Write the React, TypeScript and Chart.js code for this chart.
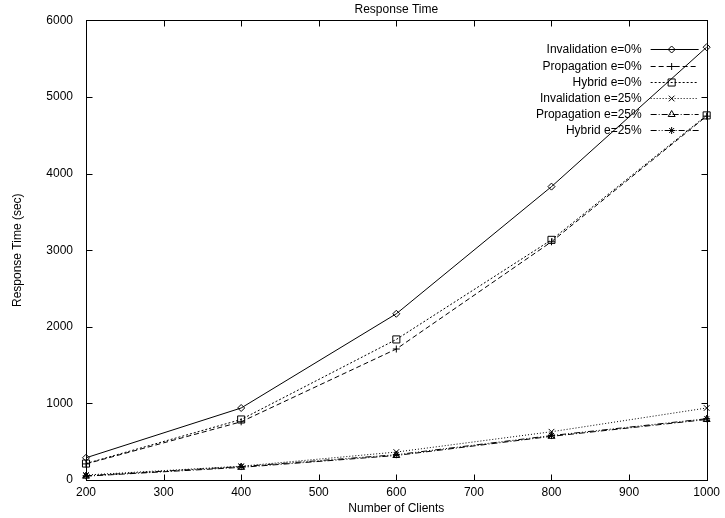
import { useEffect, useRef } from 'react';
import { Chart, registerables } from 'chart.js';
import { drawPoint } from 'chart.js/helpers';

Chart.register(...registerables);

// Number of clients on the x axis
const clients = [200, 400, 600, 800, 1000];

// Response time (sec) per scheme and error rate
const invalidation0 = [290, 940, 2170, 3830, 5650];
const propagation0 = [210, 760, 1710, 3110, 4750];
const hybrid0 = [215, 790, 1835, 3135, 4760];
const invalidation25 = [65, 180, 365, 630, 940];
const propagation25 = [50, 165, 320, 570, 790];
const hybrid25 = [55, 175, 330, 580, 800];

const seriesLabels = [
  'Invalidation e=0%',
  'Propagation e=0%',
  'Hybrid e=0%',
  'Invalidation e=25%',
  'Propagation e=25%',
  'Hybrid e=25%',
];
const seriesValues = [invalidation0, propagation0, hybrid0, invalidation25, propagation25, hybrid25];

const FONT = "'Liberation Sans', Arial, Helvetica, sans-serif";

const seriesStyles = [
  { dash: [], point: 'rectRot', radius: 3.5 },
  { dash: [5, 3], point: 'cross', radius: 3.5 },
  { dash: [2, 2], point: 'rect', radius: 5 },
  { dash: [1, 2], point: 'crossRot', radius: 4 },
  { dash: [6, 2, 1, 2], point: 'triangle', radius: 4 },
  { dash: [6, 2, 1, 2, 1, 2], point: 'star', radius: 3.5 },
];

// Box around the plot area with inward tick marks on all four sides
const framePlugin = {
  id: 'frame',
  afterDatasetsDraw(chart: any) {
    const { ctx, chartArea: a, scales } = chart;
    const len = 6;
    ctx.save();
    ctx.strokeStyle = '#000';
    ctx.lineWidth = 1;
    const l = Math.round(a.left) + 0.5;
    const r = Math.round(a.right) + 0.5;
    const t = Math.round(a.top) + 0.5;
    const b = Math.round(a.bottom) + 0.5;
    ctx.strokeRect(l, t, r - l, b - t);
    ctx.beginPath();
    scales.x.ticks.forEach((tk: any) => {
      const px = Math.round(scales.x.getPixelForValue(tk.value)) + 0.5;
      ctx.moveTo(px, b);
      ctx.lineTo(px, b - len);
      ctx.moveTo(px, t);
      ctx.lineTo(px, t + len);
    });
    scales.y.ticks.forEach((tk: any) => {
      const py = Math.round(scales.y.getPixelForValue(tk.value)) + 0.5;
      ctx.moveTo(l, py);
      ctx.lineTo(l + len, py);
      ctx.moveTo(r, py);
      ctx.lineTo(r - len, py);
    });
    ctx.stroke();
    ctx.restore();
  },
};

// Key in the upper right: right-aligned text followed by a line sample with its marker
const keyPlugin = {
  id: 'key',
  afterDraw(chart: any) {
    const { ctx, chartArea: a } = chart;
    ctx.save();
    ctx.font = `12px ${FONT}`;
    ctx.textAlign = 'right';
    ctx.textBaseline = 'middle';
    const textRight = a.right - 65;
    const lineStart = a.right - 56;
    const lineEnd = a.right - 8;
    chart.data.datasets.forEach((ds: any, i: number) => {
      const y = Math.round(a.top + 29 + i * 16.2) + 0.5;
      ctx.fillStyle = '#000';
      ctx.fillText(ds.label, textRight, y);
      ctx.strokeStyle = '#000';
      ctx.lineWidth = 1;
      ctx.setLineDash(ds.borderDash || []);
      ctx.beginPath();
      ctx.moveTo(lineStart, y);
      ctx.lineTo(lineEnd, y);
      ctx.stroke();
      ctx.setLineDash([]);
      ctx.fillStyle = 'rgba(0,0,0,0)';
      drawPoint(
        ctx,
        { pointStyle: ds.pointStyle, radius: ds.pointRadius, rotation: 0, borderWidth: 1 },
        lineStart + 21,
        y
      );
    });
    ctx.restore();
  },
};

const plainNumber = (v: any) => String(v);

export default function App() {
  const canvasRef = useRef<HTMLCanvasElement | null>(null);

  useEffect(() => {
    document.body.style.margin = '0';
    const canvas = canvasRef.current;
    if (!canvas) return;

    const datasets = seriesLabels.map((label, i) => ({
      label,
      data: clients.map((c, j) => ({ x: c, y: seriesValues[i][j] })),
      borderColor: '#000',
      backgroundColor: 'rgba(0,0,0,0)',
      borderWidth: 1,
      borderDash: seriesStyles[i].dash,
      pointStyle: seriesStyles[i].point,
      pointRadius: seriesStyles[i].radius,
      pointBorderColor: '#000',
      pointBackgroundColor: 'rgba(0,0,0,0)',
      pointBorderWidth: 1,
      fill: false,
      tension: 0,
      clip: false as any,
    }));

    const chart = new Chart(canvas, {
      type: 'line',
      data: { datasets },
      options: {
        responsive: false,
        animation: false,
        layout: { padding: { left: 10, right: 17, top: 2, bottom: 0 } },
        plugins: {
          legend: { display: false },
          tooltip: { enabled: false },
          title: {
            display: true,
            text: 'Response Time',
            color: '#000',
            fullSize: false,
            font: { family: FONT, size: 12, weight: 'normal' },
            padding: { top: 0, bottom: 4 },
          },
        },
        scales: {
          x: {
            type: 'linear',
            min: 200,
            max: 1000,
            grid: { display: false, drawTicks: false },
            border: { display: false },
            ticks: {
              stepSize: 100,
              color: '#000',
              padding: 5,
              maxRotation: 0,
              font: { family: FONT, size: 12 },
              callback: plainNumber,
            },
            title: {
              display: true,
              text: 'Number of Clients',
              color: '#000',
              font: { family: FONT, size: 12 },
              padding: { top: 0, bottom: 2 },
            },
            afterFit: (s: any) => {
              s.height = 38;
            },
          },
          y: {
            type: 'linear',
            min: 0,
            max: 6000,
            grid: { display: false, drawTicks: false },
            border: { display: false },
            ticks: {
              stepSize: 1000,
              color: '#000',
              padding: 13,
              font: { family: FONT, size: 12 },
              callback: plainNumber,
            },
            title: {
              display: true,
              text: 'Response Time (sec)',
              color: '#000',
              font: { family: FONT, size: 12 },
              padding: { top: 0, bottom: 0 },
            },
            afterFit: (s: any) => {
              s.width = 76;
            },
          },
        },
      },
      plugins: [framePlugin, keyPlugin],
    });

    return () => chart.destroy();
  }, []);

  return (
    <div style={{ width: 725, height: 518, background: '#fff' }}>
      <canvas ref={canvasRef} width={725} height={518} />
    </div>
  );
}
